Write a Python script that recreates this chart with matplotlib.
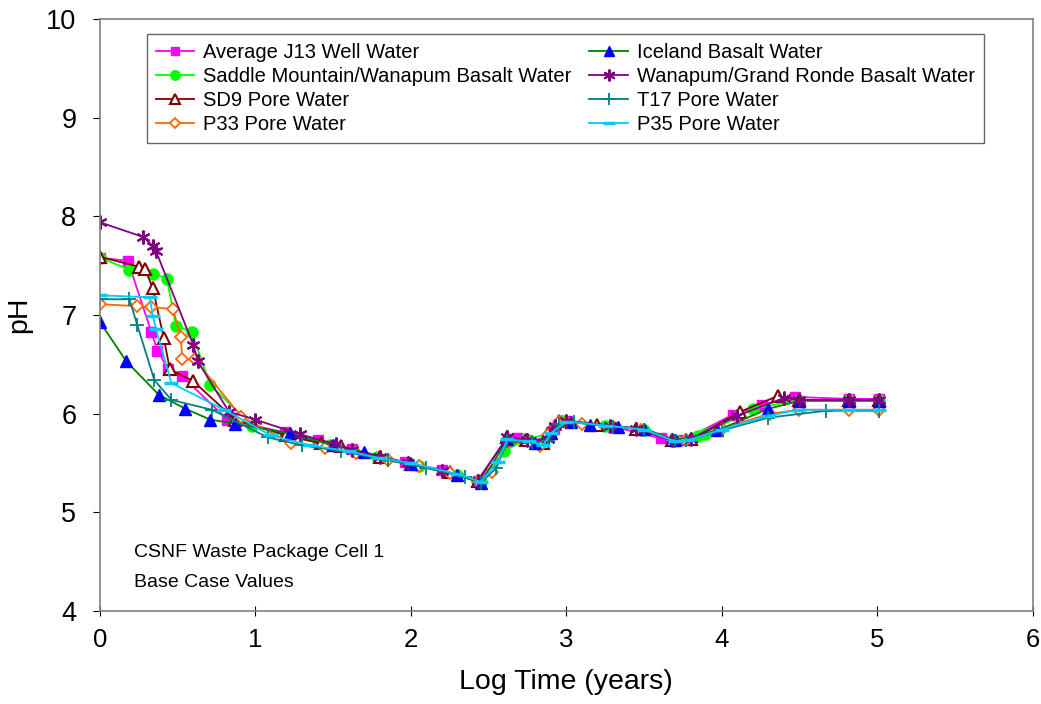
import matplotlib
matplotlib.use("Agg")
import matplotlib.pyplot as plt

plt.rcParams['font.family'] = ['Liberation Sans', 'DejaVu Sans']

# ---- data ----
j13_x = [0, 0.18, 0.33, 0.37, 0.44, 0.53, 0.82, 1.19, 1.40, 1.62, 1.96, 2.2, 2.43, 2.68, 2.85, 2.92, 3.0, 3.3, 3.61, 3.75, 4.07, 4.26, 4.47, 4.82, 5.01]
j13_y = [7.58, 7.55, 6.83, 6.64, 6.45, 6.38, 5.94, 5.81, 5.73, 5.64, 5.51, 5.43, 5.32, 5.75, 5.70, 5.85, 5.93, 5.87, 5.75, 5.73, 5.99, 6.09, 6.17, 6.15, 6.15]

sm_x = [0, 0.19, 0.34, 0.43, 0.49, 0.59, 0.71, 0.98, 1.22, 1.48, 1.78, 2.05, 2.3, 2.45, 2.6, 2.74, 2.9, 2.97, 3.25, 3.5, 3.7, 3.85, 3.89, 4.2, 4.5, 4.82, 5.01]
sm_y = [7.58, 7.46, 7.42, 7.37, 6.89, 6.83, 6.29, 5.88, 5.77, 5.68, 5.56, 5.47, 5.38, 5.31, 5.62, 5.74, 5.80, 5.93, 5.88, 5.84, 5.73, 5.77, 5.79, 6.05, 6.14, 6.14, 6.14]

sd9_x = [0, 0.25, 0.29, 0.34, 0.41, 0.45, 0.60, 0.87, 1.2, 1.42, 1.55, 1.8, 2.0, 2.25, 2.43, 2.62, 2.74, 2.85, 2.88, 2.95, 3.2, 3.45, 3.68, 3.8, 4.12, 4.36, 4.5, 4.82, 5.01]
sd9_y = [7.59, 7.49, 7.47, 7.27, 6.77, 6.45, 6.33, 5.94, 5.78, 5.70, 5.67, 5.56, 5.49, 5.41, 5.32, 5.76, 5.73, 5.70, 5.80, 5.93, 5.89, 5.85, 5.73, 5.74, 6.02, 6.18, 6.14, 6.14, 6.14]

p33_x = [0, 0.24, 0.33, 0.47, 0.52, 0.53, 0.61, 0.91, 1.23, 1.45, 1.65, 1.85, 2.05, 2.25, 2.43, 2.52, 2.63, 2.78, 2.83, 2.88, 2.95, 3.0, 3.1, 3.3, 3.48, 3.7, 3.77, 4.0, 4.31, 4.5, 4.82, 5.01]
p33_y = [7.11, 7.09, 7.08, 7.06, 6.78, 6.55, 6.55, 5.97, 5.70, 5.65, 5.60, 5.53, 5.47, 5.40, 5.31, 5.41, 5.72, 5.70, 5.67, 5.78, 5.92, 5.92, 5.90, 5.87, 5.84, 5.72, 5.73, 5.85, 6.00, 6.04, 6.04, 6.04]

ice_x = [0, 0.17, 0.38, 0.55, 0.71, 0.87, 1.22, 1.5, 1.7, 2.0, 2.3, 2.45, 2.62, 2.8, 2.9, 3.03, 3.15, 3.33, 3.5, 3.7, 3.97, 4.3, 4.5, 4.82, 5.01]
ice_y = [6.93, 6.53, 6.19, 6.05, 5.94, 5.90, 5.80, 5.68, 5.61, 5.49, 5.38, 5.30, 5.74, 5.70, 5.80, 5.92, 5.89, 5.87, 5.85, 5.73, 5.83, 6.05, 6.13, 6.13, 6.13]

wgr_x = [0, 0.28, 0.34, 0.36, 0.60, 0.63, 0.83, 1.0, 1.29, 1.52, 1.62, 1.8, 1.98, 2.2, 2.43, 2.62, 2.75, 2.88, 2.93, 3.0, 3.28, 3.45, 3.68, 3.8, 4.1, 4.4, 4.5, 4.82, 5.01]
wgr_y = [7.94, 7.79, 7.70, 7.65, 6.70, 6.53, 6.02, 5.94, 5.79, 5.69, 5.63, 5.56, 5.50, 5.42, 5.32, 5.76, 5.73, 5.74, 5.88, 5.93, 5.88, 5.85, 5.73, 5.74, 5.98, 6.16, 6.14, 6.14, 6.14]

t17_x = [0, 0.19, 0.24, 0.35, 0.46, 0.72, 1.08, 1.3, 1.55, 1.85, 2.1, 2.35, 2.45, 2.55, 2.62, 2.78, 2.88, 2.95, 3.05, 3.3, 3.5, 3.7, 3.77, 4.0, 4.3, 4.67, 5.01]
t17_y = [7.16, 7.16, 6.90, 6.34, 6.14, 6.04, 5.76, 5.68, 5.62, 5.53, 5.45, 5.36, 5.30, 5.45, 5.72, 5.71, 5.72, 5.90, 5.92, 5.87, 5.84, 5.72, 5.73, 5.83, 5.96, 6.03, 6.03]

p35_x = [0, 0.32, 0.34, 0.36, 0.46, 0.80, 1.1, 1.35, 1.6, 1.8, 2.0, 2.3, 2.45, 2.56, 2.62, 2.76, 2.85, 2.9, 3.0, 3.25, 3.5, 3.7, 3.78, 4.0, 4.3, 4.5, 4.82, 5.01]
p35_y = [7.20, 7.18, 6.99, 6.86, 6.31, 6.04, 5.78, 5.68, 5.62, 5.55, 5.50, 5.39, 5.31, 5.51, 5.74, 5.72, 5.68, 5.80, 5.92, 5.88, 5.84, 5.72, 5.73, 5.84, 5.98, 6.04, 6.04, 6.04]

labels = ["Average J13 Well Water", "Saddle Mountain/Wanapum Basalt Water",
          "SD9 Pore Water", "P33 Pore Water", "Iceland Basalt Water",
          "Wanapum/Grand Ronde Basalt Water", "T17 Pore Water", "P35 Pore Water"]

x_ticks = [0, 1, 2, 3, 4, 5, 6]
y_ticks = [4, 5, 6, 7, 8, 9, 10]

# ---- plot ----
fig = plt.figure(figsize=(10.41, 7.04), dpi=100)
ax = fig.add_axes([0.096, 0.132, 0.896, 0.841])

lw = 1.3
ax.plot(j13_x, j13_y, color='#FF00FF', lw=lw, marker='s', ms=7, mfc='#FF00FF', mec='#FF00FF', label=labels[0])
ax.plot(sm_x, sm_y, color='#00FF00', lw=lw, marker='o', ms=8, mfc='#00FF00', mec='#00FF00', label=labels[1])
ax.plot(sd9_x, sd9_y, color='#800000', lw=lw, marker='^', ms=8, mfc='white', mec='#800000', mew=1.5, label=labels[2])
ax.plot(p33_x, p33_y, color='#FF6600', lw=lw, marker='D', ms=6, mfc='white', mec='#FF6600', mew=1.3, label=labels[3])
ax.plot(ice_x, ice_y, color='#008000', lw=lw, marker='^', ms=8, mfc='#0000FF', mec='#0000FF', label=labels[4])
ax.plot(wgr_x, wgr_y, color='#800080', lw=lw, marker=(6, 2, 0), ms=10, mfc='#800080', mec='#800080', mew=1.5, label=labels[5])
ax.plot(t17_x, t17_y, color='#008080', lw=lw, marker='+', ms=10, mec='#008080', mew=1.3, label=labels[6])
ax.plot(p35_x, p35_y, color='#00CCFF', lw=lw, marker='_', ms=10, mec='#00CCFF', mew=2.5, label=labels[7])

ax.set_xlim(0, 6)
ax.set_ylim(4, 10)
ax.set_xticks(x_ticks)
ax.set_yticks(y_ticks)
ax.tick_params(axis='x', direction='inout', length=7, labelsize=18.5, colors='black', pad=9)
ax.tick_params(axis='y', direction='out', length=5, labelsize=19.5, colors='black', pad=12)
for t in ax.get_xticklines() + ax.get_yticklines():
    t.set_color('#808080')
for s in ax.spines.values():
    s.set_color('#808080')
    s.set_linewidth(1.2)

ax.set_xlabel("Log Time (years)", fontsize=20.5, labelpad=12)
ax.set_ylabel("pH", fontsize=20.5, labelpad=10)

ax.text(0.22, 4.44, "CSNF Waste Package Cell 1\nBase Case Values", fontsize=14,
        va='center', ha='left', linespacing=2.0, transform=ax.transData)

leg = ax.legend(loc='upper left', bbox_to_anchor=(0.05, 0.975), borderaxespad=0,
                ncol=2, fontsize=14.5, frameon=True, fancybox=False, edgecolor='#404040',
                handlelength=1.9, handletextpad=0.45, columnspacing=0.9,
                labelspacing=0.25, borderpad=0.45, markerscale=0.85)
leg.get_frame().set_linewidth(1.0)

fig.savefig("out.png", dpi=100)
